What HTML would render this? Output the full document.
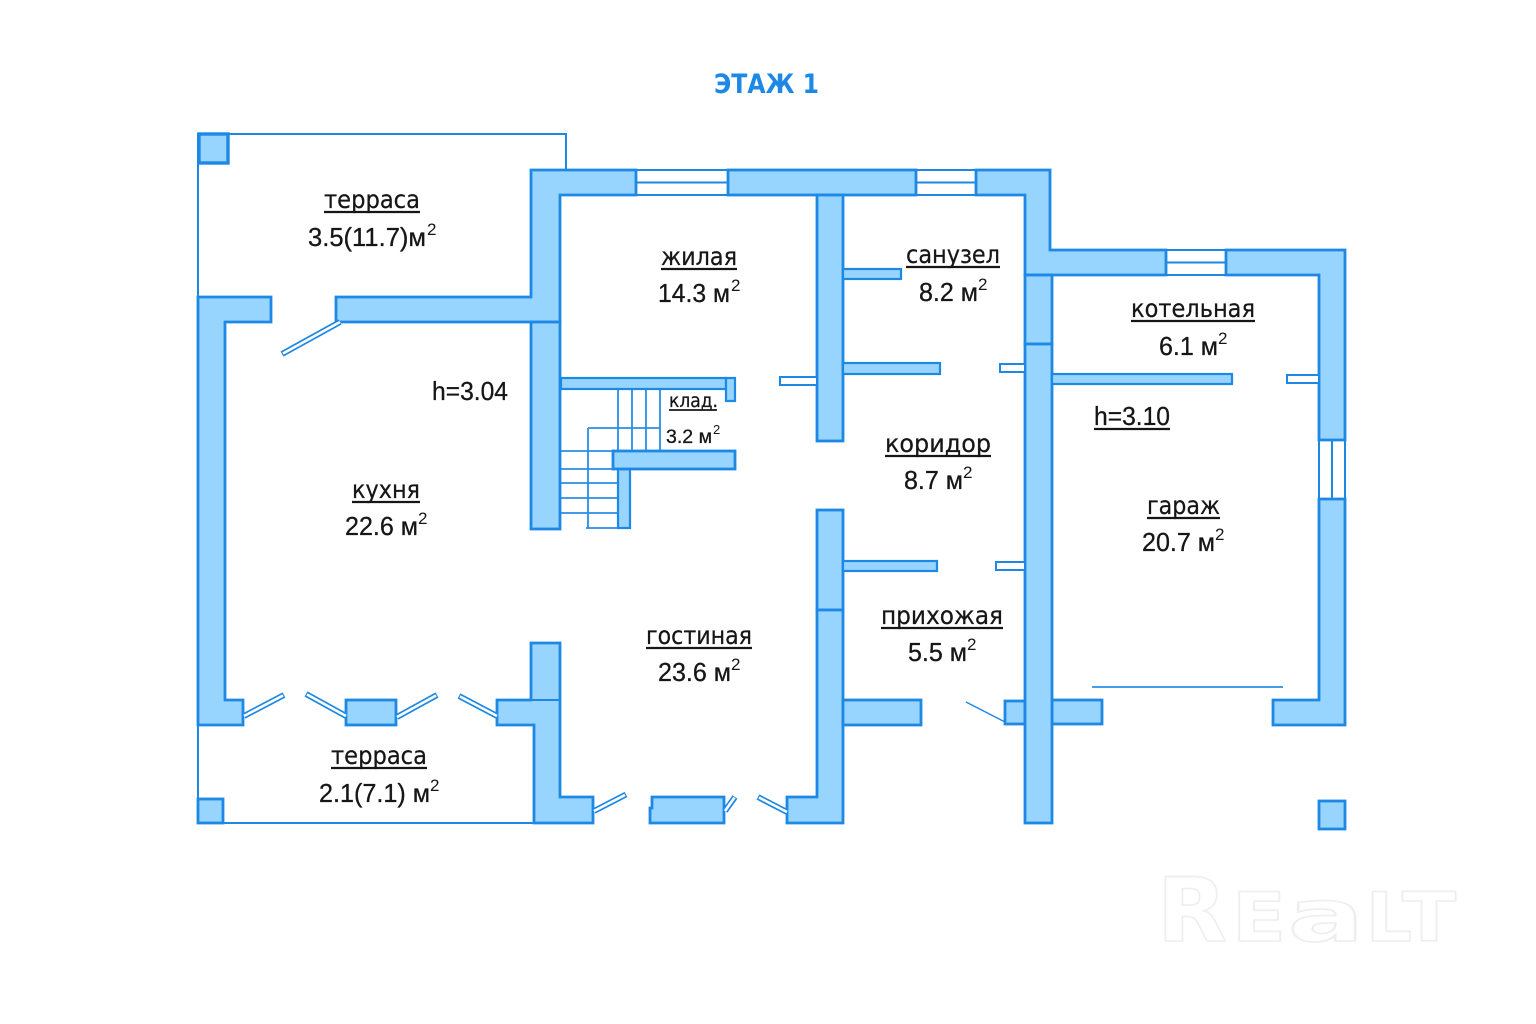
<!DOCTYPE html>
<html><head><meta charset="utf-8"><style>
html,body{margin:0;padding:0;background:#fff;width:1536px;height:1024px;overflow:hidden}
svg{display:block}
.w{fill:#97d5ff;stroke:#1e88e5;stroke-width:2.8;stroke-linejoin:miter}
.o{fill:#fff;stroke:#1e88e5;stroke-width:2}
.l{fill:none;stroke:#1e88e5;stroke-width:2}
.s{fill:none;stroke:#2a8fe6;stroke-width:1.8}
.da{stroke:#1e88e5;stroke-width:6;fill:none}
.db{stroke:#fff;stroke-width:2.6;fill:none}
.t{font-family:"DejaVu Sans","Liberation Sans",sans-serif;font-size:25px;fill:#161616;stroke:#161616;stroke-width:.25}
.n{font-family:"Liberation Sans","DejaVu Sans",sans-serif;font-size:26px;fill:#161616;stroke:#161616;stroke-width:.3}
.m{font-size:18.5px}
.nm{font-size:19.5px}
.u{font-family:"Liberation Sans",sans-serif;font-size:17px;fill:#161616}
.ul{stroke:#161616;stroke-width:2.3}
.wm{font-family:"DejaVu Sans",sans-serif;font-weight:bold;fill:#fff;stroke:#eeeeee;stroke-width:1.6}
</style></head><body>
<svg width="1536" height="1024" viewBox="0 0 1536 1024" xmlns="http://www.w3.org/2000/svg">
<rect width="1536" height="1024" fill="#fff"/>
<text x="714" y="93" textLength="105" lengthAdjust="spacingAndGlyphs" font-family="DejaVu Sans, sans-serif" font-weight="bold" font-size="27" fill="#1e88e5">ЭТАЖ 1</text>

<!-- thin outlines -->
<path class="l" d="M198 297V134H566V170"/>
<path class="l" d="M198 725V823H534"/>
<path class="s" d="M1092 687H1283"/>
<path d="M966 702L1005 722" stroke="#1e88e5" stroke-width="1.5" fill="none"/>

<!-- windows -->
<rect class="o" x="636" y="170" width="92" height="25"/><path class="l" d="M636 182.500H728"/>
<rect class="o" x="916" y="170" width="60" height="25"/><path class="l" d="M916 182.500H976"/>
<rect class="o" x="1166" y="250" width="60" height="25"/><path class="l" d="M1166 262.500H1226"/>
<rect class="o" x="1319" y="440" width="26" height="59"/><path class="l" d="M1332 440V499"/>

<!-- stairs -->
<path class="s" d="M618 389V451M632 389V451M646 389V451M660 389V451M588 428H660M588 428V528M561 451H617M561 469H618M561 483H618M561 498H618M561 513H618M586 528H630"/>

<!-- walls -->
<rect class="w" x="199" y="134" width="29" height="29" style="stroke-width:3.4"/>
<path class="w" d="M531 170H636V195H560V322H336V297H531Z"/>
<rect class="w" x="728" y="170" width="188" height="25"/>
<path class="w" d="M976 170H1050V250H1166V275H1025V195H976Z"/>
<path class="w" d="M1226 250H1345V440H1319V275H1226Z"/>
<path class="w" d="M1319 499H1345V725H1273V700H1319Z"/>
<rect class="w" x="1052" y="700" width="50" height="24"/>
<rect class="w" x="1005" y="701" width="20" height="23"/>
<rect class="w" x="1025" y="275" width="27" height="69"/>
<rect class="w" x="1025" y="344" width="27" height="479"/>
<rect class="w" x="1319" y="801" width="26" height="28"/>
<path class="w" d="M198 297H271V322H225V700H243V725H198Z"/>
<rect class="w" x="531" y="322" width="29" height="207"/>
<rect class="w" x="561" y="378" width="165" height="11" style="stroke-width:2.2"/>
<rect class="w" x="726" y="378" width="9" height="23" style="stroke-width:2.2"/>
<rect class="w" x="618" y="469" width="12" height="59" style="stroke-width:2.2"/>
<rect class="w" x="613" y="451" width="122" height="18"/>
<rect class="w" x="817" y="195" width="26" height="246"/>
<rect class="w" x="843" y="269" width="58" height="10" style="stroke-width:2.2"/>
<rect class="w" x="843" y="363" width="97" height="11" style="stroke-width:2.2"/>
<rect class="o" x="780" y="377" width="37" height="8"/>
<rect class="o" x="1000" y="364" width="25" height="8"/>
<rect class="w" x="1052" y="374" width="180" height="10" style="stroke-width:2.2"/>
<rect class="o" x="1287" y="375" width="32" height="8"/>
<rect class="w" x="817" y="510" width="26" height="100"/>
<path class="w" d="M817 610H843V823H787V797H817Z"/>
<rect class="w" x="843" y="561" width="94" height="10" style="stroke-width:2.2"/>
<rect class="o" x="996" y="562" width="29" height="8"/>
<rect class="w" x="843" y="700" width="78" height="25"/>
<rect class="w" x="198" y="799" width="25" height="24"/>
<path class="w" d="M497 700H531V643H560V797H593V823H534V725H497Z"/>
<path class="l" d="M531 700H560"/>
<rect class="w" x="346" y="700" width="50" height="25"/>
<path class="w" d="M652 797H724V823H650V808H652Z"/>

<!-- door leaves -->
<g>
<path class="da" d="M244 716L284 695"/><path class="db" d="M244 716L283 695.500"/>
<path class="da" d="M306 694L346 716"/><path class="db" d="M307 694.500L346 716"/>
<path class="da" d="M397 717L437 695"/><path class="db" d="M397 717L436 695.500"/>
<path class="da" d="M459 696L497 716"/><path class="db" d="M460 696.500L497 716"/>
<path class="da" d="M594 811L626 794.500"/><path class="db" d="M594 811L625 795"/>
<path class="da" d="M725 811L735 797"/><path class="db" d="M725 811L734.500 797.500"/>
<path class="da" d="M758 797L787 812"/><path class="db" d="M759 797.500L787 812"/>
<path class="da" d="M282 354L340 322"/><path class="db" d="M283 353.500L340 322"/>
</g>

<!-- labels -->
<g>
<text class="t" x="324" y="208" textLength="96" lengthAdjust="spacingAndGlyphs">терраса</text><path class="ul" d="M324 212H420"/>
<text class="n" x="308" y="246" textLength="118" lengthAdjust="spacingAndGlyphs">3.5(11.7)м</text><text class="u" x="427" y="235">2</text>

<text class="t" x="661" y="265" textLength="76" lengthAdjust="spacingAndGlyphs">жилая</text><path class="ul" d="M661 269H737"/>
<text class="n" x="658" y="302" textLength="72" lengthAdjust="spacingAndGlyphs">14.3 м</text><text class="u" x="731" y="291">2</text>

<text class="t" x="906" y="263" textLength="94" lengthAdjust="spacingAndGlyphs">санузел</text><path class="ul" d="M906 267H1000"/>
<text class="n" x="919" y="301" textLength="59" lengthAdjust="spacingAndGlyphs">8.2 м</text><text class="u" x="978" y="290">2</text>

<text class="t" x="1131" y="317" textLength="124" lengthAdjust="spacingAndGlyphs">котельная</text><path class="ul" d="M1131 321H1255"/>
<text class="n" x="1159" y="355" textLength="59" lengthAdjust="spacingAndGlyphs">6.1 м</text><text class="u" x="1218" y="344">2</text>

<text class="n" x="432" y="400" textLength="76" lengthAdjust="spacingAndGlyphs">h=3.04</text>

<text class="t m" x="669" y="407" textLength="49" lengthAdjust="spacingAndGlyphs">клад.</text><path class="ul" d="M669 410H717" style="stroke-width:1.7"/>
<text class="n nm" x="666" y="443" textLength="46" lengthAdjust="spacingAndGlyphs">3.2 м</text><text class="u" x="713" y="434" style="font-size:13px">2</text>

<text class="t" x="885" y="452" textLength="106" lengthAdjust="spacingAndGlyphs">коридор</text><path class="ul" d="M885 456H991"/>
<text class="n" x="904" y="489" textLength="59" lengthAdjust="spacingAndGlyphs">8.7 м</text><text class="u" x="963" y="478">2</text>

<text class="n" x="1094" y="425" textLength="76" lengthAdjust="spacingAndGlyphs">h=3.10</text><path class="ul" d="M1094 429H1170"/>

<text class="t" x="352" y="498" textLength="68" lengthAdjust="spacingAndGlyphs">кухня</text><path class="ul" d="M352 502H420"/>
<text class="n" x="345" y="535" textLength="73" lengthAdjust="spacingAndGlyphs">22.6 м</text><text class="u" x="418" y="524">2</text>

<text class="t" x="1147" y="514" textLength="73" lengthAdjust="spacingAndGlyphs">гараж</text><path class="ul" d="M1147 518H1220"/>
<text class="n" x="1142" y="551" textLength="73" lengthAdjust="spacingAndGlyphs">20.7 м</text><text class="u" x="1215" y="540">2</text>

<text class="t" x="646" y="644" textLength="106" lengthAdjust="spacingAndGlyphs">гостиная</text><path class="ul" d="M646 648H752"/>
<text class="n" x="658" y="681" textLength="73" lengthAdjust="spacingAndGlyphs">23.6 м</text><text class="u" x="731" y="670">2</text>

<text class="t" x="881" y="624" textLength="122" lengthAdjust="spacingAndGlyphs">прихожая</text><path class="ul" d="M881 628H1003"/>
<text class="n" x="908" y="661" textLength="59" lengthAdjust="spacingAndGlyphs">5.5 м</text><text class="u" x="967" y="650">2</text>

<text class="t" x="331" y="764" textLength="96" lengthAdjust="spacingAndGlyphs">терраса</text><path class="ul" d="M331 768H427"/>
<text class="n" x="319" y="802" textLength="111" lengthAdjust="spacingAndGlyphs">2.1(7.1) м</text><text class="u" x="430" y="791">2</text>
</g>

<!-- watermark -->
<g class="wm">
<text x="1157" y="941" font-size="88" textLength="70" lengthAdjust="spacingAndGlyphs">R</text>
<text x="1232" y="941" font-size="68" textLength="54" lengthAdjust="spacingAndGlyphs">E</text>
<text x="1288" y="941" font-size="72" textLength="76" lengthAdjust="spacingAndGlyphs">a</text>
<text x="1366" y="941" font-size="68" textLength="46" lengthAdjust="spacingAndGlyphs">L</text>
<text x="1402" y="941" font-size="68" textLength="54" lengthAdjust="spacingAndGlyphs">T</text>
</g>
</svg>
</body></html>
